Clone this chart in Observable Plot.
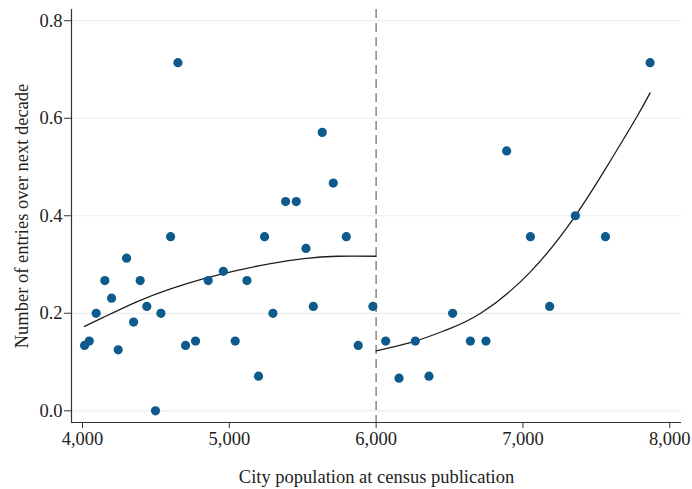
<!DOCTYPE html>
<html>
<head>
<meta charset="utf-8">
<script src="https://cdn.jsdelivr.net/npm/d3@7"></script>
<script src="https://cdn.jsdelivr.net/npm/@observablehq/plot@0.6"></script>
<style>
  html, body { margin: 0; padding: 0; background: #fff; }
  svg { display: block; }
</style>
</head>
<body>
<div id="chart"></div>
<script>
// City population at census publication (x) and number of entries over next decade (y)
const population = [
  4014, 4046, 4093, 4152, 4198, 4243, 4300, 4348, 4393, 4438,
  4497, 4534, 4600, 4650, 4702, 4770, 4856, 4959, 5040, 5120,
  5199, 5240, 5297, 5383, 5456, 5522, 5572, 5633, 5708, 5797,
  5878, 5978,
  6065, 6156, 6267, 6360, 6521, 6642, 6748, 6889, 7051, 7182,
  7357, 7562, 7866
];
const entries = [
  0.134, 0.143, 0.200, 0.267, 0.231, 0.125, 0.313, 0.182, 0.267, 0.214,
  0.000, 0.200, 0.357, 0.714, 0.134, 0.143, 0.267, 0.286, 0.143, 0.267,
  0.071, 0.357, 0.200, 0.429, 0.429, 0.333, 0.214, 0.571, 0.467, 0.357,
  0.134, 0.214,
  0.143, 0.067, 0.143, 0.071, 0.200, 0.143, 0.143, 0.533, 0.357, 0.214,
  0.400, 0.357, 0.714
];
// Fitted polynomial (left and right of the cutoff)
const fitLeftPop = [4014, 4145, 4373, 4600, 4827, 5054, 5281, 5508, 5736, 6000];
const fitLeftY   = [0.173, 0.192, 0.224, 0.250, 0.271, 0.288, 0.302, 0.312, 0.317, 0.317];
const fitRightPop = [6000, 6267, 6480, 6712, 7051, 7357, 7560, 7770, 7866];
const fitRightY   = [0.123, 0.143, 0.166, 0.200, 0.285, 0.400, 0.495, 0.600, 0.652];

const cutoff = 6000;
const xTicks = [4000, 5000, 6000, 7000, 8000];
const yTicks = [0, 0.2, 0.4, 0.6, 0.8];
const xDomain = [3925, 8080];
const yDomain = [-0.024, 0.823];

const data = population.map((p, i) => ({pop: p, y: entries[i]}));
const fitLeft = fitLeftPop.map((p, i) => ({pop: p, y: fitLeftY[i]}));
const fitRight = fitRightPop.map((p, i) => ({pop: p, y: fitRightY[i]}));

const font = "'Liberation Serif', 'Times New Roman', serif";
const fs = 18.5;
const chart = Plot.plot({
  width: 692,
  height: 489,
  marginLeft: 71,
  marginRight: 11,
  marginTop: 9,
  marginBottom: 67,
  style: {fontFamily: font, fontSize: fs + "px", color: "#222", background: "#fff"},
  x: {domain: xDomain},
  y: {domain: yDomain},
  marks: [
    Plot.gridY(yTicks, {stroke: "#e8f0f2", strokeOpacity: 1, strokeWidth: 1.2}),
    Plot.ruleX([cutoff], {stroke: "#8e8e8e", strokeWidth: 1.6, strokeDasharray: "9,5"}),
    Plot.ruleX([xDomain[0]], {stroke: "#333", strokeWidth: 1.2}),
    Plot.ruleY([yDomain[0]], {stroke: "#333", strokeWidth: 1.2}),
    Plot.axisX(xTicks, {
      tickFormat: d3.format(","), tickSize: 6, tickPadding: 3, fontSize: fs,
      label: "City population at census publication", labelAnchor: "center", labelOffset: 60,
      labelArrow: false, stroke: "#333"
    }),
    Plot.axisY(yTicks, {
      tickFormat: d3.format(".1f"), tickSize: 7, tickPadding: 2, fontSize: fs,
      label: "Number of entries over next decade", labelAnchor: "center", labelOffset: 57,
      labelArrow: false, stroke: "#333"
    }),
    Plot.line(fitLeft, {x: "pop", y: "y", curve: "natural", stroke: "#1e1e1e", strokeWidth: 1.3}),
    Plot.line(fitRight, {x: "pop", y: "y", curve: "natural", stroke: "#1e1e1e", strokeWidth: 1.3}),
    Plot.dot(data, {x: "pop", y: "y", r: 4.6, fill: "#0f5a8c", stroke: "none"})
  ]
});
document.getElementById("chart").appendChild(chart);
</script>
</body>
</html>
